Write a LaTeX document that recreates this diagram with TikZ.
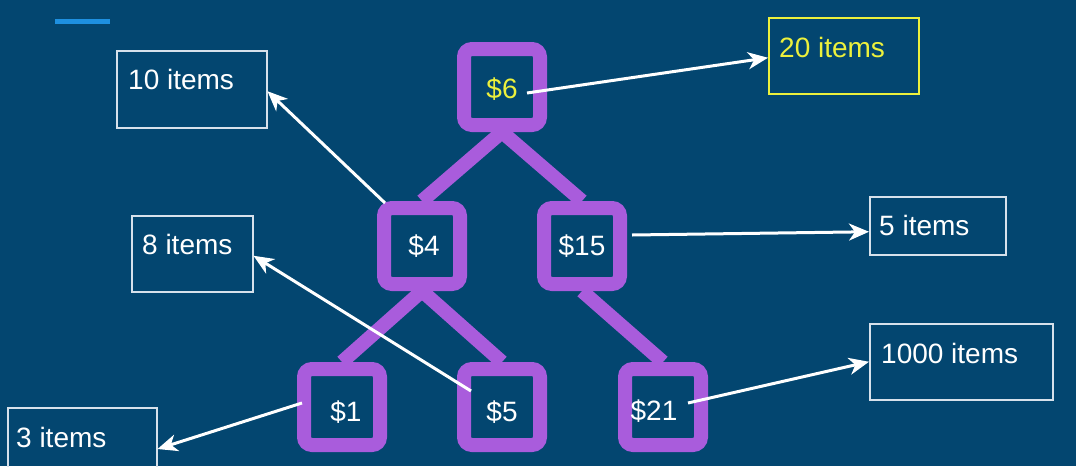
\documentclass[tikz,border=0pt]{standalone}
\usepackage{fontspec}
\setmainfont{Liberation Sans}
\usetikzlibrary{arrows.meta,calc}
\definecolor{bg}{RGB}{3,70,112}
\definecolor{purp}{RGB}{169,92,220}
\definecolor{yel}{RGB}{236,240,60}
\definecolor{boxline}{RGB}{215,225,235}
\definecolor{accent}{RGB}{30,144,224}
\begin{document}
\begin{tikzpicture}[x=1pt,y=-1pt,
  treebox/.style={draw=purp, line width=14pt, fill=bg, rounded corners=8pt,
    minimum width=76pt, minimum height=76pt, inner sep=0pt},
  treetext/.style={text=white, inner sep=0pt, font=\fontsize{28}{32}\selectfont},
  treeedge/.style={draw=purp, line width=14pt},
  itembox/.style={draw=boxline, line width=1.5pt, anchor=north west, inner sep=0pt},
  itemtext/.style={anchor=base west, text=white, inner sep=0pt, font=\fontsize{28}{32}\selectfont},
  pointer/.style={draw=white, line width=3pt, -{Stealth[length=20pt,width=17pt,inset=6pt]}}
]
\fill[bg] (0,0) rectangle (1076,466);
\useasboundingbox (0,0) rectangle (1076,466);
\draw[accent, line width=5pt] (55,21.5) -- (110,21.5);

% tree nodes
\node[treebox] (n6)  at (502,87)  {};
\node[treebox] (n4)  at (422,246) {};
\node[treebox] (n15) at (582,246) {};
\node[treebox] (n1)  at (342,407) {};
\node[treebox] (n5)  at (502,407) {};
\node[treebox] (n21) at (663,407) {};

\node[treetext, text=yel] (t6) at ($(n6.center)+(0,2)$) {\$6};
\node[treetext] (t4)  at ($(n4.center)+(2,0)$) {\$4};
\node[treetext] (t15) at ($(n15.center)+(0,0)$) {\$15};
\node[treetext] (t1)  at ($(n1.center)+(4,5)$) {\$1};
\node[treetext] (t5)  at ($(n5.center)+(0,5)$) {\$5};
\node[treetext] (t21) at ($(n21.center)+(-9,4)$) {\$21};

% tree edges
\draw[treeedge] (n6.south) -- (n4.north);
\draw[treeedge] (n6.south) -- (n15.north);
\draw[treeedge] (n4.south) -- (n1.north);
\draw[treeedge] (n4.south) -- (n5.north);
\draw[treeedge] (n15.south) -- (n21.north);

% item boxes
\node[itembox, minimum width=150pt, minimum height=77pt] (b10) at (116,50) {};
\node[itembox, draw=yel, minimum width=150pt, minimum height=76pt] (b20) at (768,17) {};
\node[itembox, minimum width=121pt, minimum height=76pt] (b8) at (131,215) {};
\node[itembox, minimum width=136pt, minimum height=58pt] (b5) at (869,196) {};
\node[itembox, minimum width=183pt, minimum height=76pt] (b1000) at (869,323) {};
\node[itembox, minimum width=149pt, minimum height=80pt] (b3) at (7,407) {};

\node[itemtext] (l10) at ($(b10.north west)+(12,39)$) {10 items};
\node[itemtext, text=yel] (l20) at ($(b20.north west)+(11,40)$) {20 items};
\node[itemtext] (l8) at ($(b8.north west)+(11,39)$) {8 items};
\node[itemtext] (l5) at ($(b5.north west)+(10,39)$) {5 items};
\node[itemtext] (l1000) at ($(b1000.north west)+(12,40)$) {1000 items};
\node[itemtext] (l3) at ($(b3.north west)+(9,40)$) {3 items};

% pointers
\draw[pointer] ($(n6.center)+(25,6)$) -- ($(b20.west)+(0,2)$);
\draw[pointer] ($(n4.center)+(-37,-43)$) -- ($(b10.east)+(0,2)$);
\draw[pointer] ($(n15.center)+(50,-11)$) -- ($(b5.west)+(0,6)$);
\draw[pointer] ($(n5.center)+(-31,-16)$) -- ($(b8.east)+(0,2)$);
\draw[pointer] ($(n1.center)+(-40,-4)$) -- ($(b3.north east)+(0,42)$);
\draw[pointer] ($(n21.center)+(25,-4)$) -- (b1000.west);
\end{tikzpicture}
\end{document}
